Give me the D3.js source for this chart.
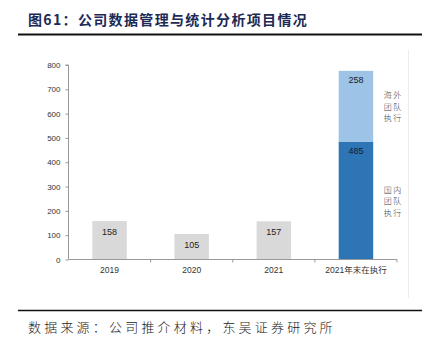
<!DOCTYPE html>
<html><head><meta charset="utf-8">
<script src="https://cdn.jsdelivr.net/npm/d3@7/dist/d3.min.js"></script>
<style>body{margin:0;background:#fff}</style>
</head><body><svg id="c" width="431" height="347"></svg>
<script>
const categories = ["2019", "2020", "2021", "2021年末在执行"];
const singleValues = [158, 105, 157, null];
const domesticValue = [null, null, null, 485];
const overseasValue = [null, null, null, 291];
const domesticLabel = ["", "", "", "485"];
const overseasLabel = ["", "", "", "258"];
const yTicks = [0, 100, 200, 300, 400, 500, 600, 700, 800];
const sideLabelsTop = ["海外", "团队", "执行"];
const sideLabelsBottom = ["国内", "团队", "执行"];

const svg = d3.select("#c");
const x = d3.scaleBand().domain(categories).range([68.5, 397]).paddingInner(0).paddingOuter(0);
const y = d3.scaleLinear().domain([0, 800]).range([259.5, 65]);
const bw = x.bandwidth() * 0.42;

// title
svg.append("text").attr("x", 28).attr("y", 25).attr("fill", "#1c2a55")
  .attr("font-family", "'Noto Sans CJK SC'").attr("font-weight", "bold").attr("font-size", 14)
  .attr("letter-spacing", 1.35).text("图61：公司数据管理与统计分析项目情况");
svg.append("line").attr("x1", 18).attr("x2", 422).attr("y1", 34.5).attr("y2", 34.5).attr("stroke", "#111").attr("stroke-width", 2);
svg.append("line").attr("x1", 18).attr("x2", 422).attr("y1", 310.5).attr("y2", 310.5).attr("stroke", "#111").attr("stroke-width", 1.5);
svg.append("line").attr("x1", 408.5).attr("x2", 408.5).attr("y1", 50).attr("y2", 298).attr("stroke", "#ececec");
svg.append("text").attr("x", 28).attr("y", 332).attr("fill", "#222")
  .attr("font-family", "'Noto Sans CJK SC'").attr("font-size", 13).attr("font-weight", 300)
  .attr("letter-spacing", 3.2).text("数据来源：公司推介材料，东吴证券研究所");

// bars
const g = svg.append("g");
categories.forEach((c, i) => {
  const cx = x(c) + x.bandwidth() / 2;
  if (singleValues[i] != null) {
    g.append("rect").attr("x", cx - bw / 2).attr("width", bw).attr("y", y(singleValues[i]))
      .attr("height", y(0) - y(singleValues[i])).attr("fill", "#d9d9d9");
    g.append("text").attr("x", cx).attr("y", y(singleValues[i]) + 14).attr("text-anchor", "middle")
      .attr("font-family", "Arial, 'Liberation Sans'").attr("font-size", 9).attr("fill", "#222").text(singleValues[i]);
  }
  if (domesticValue[i] != null) {
    const d = domesticValue[i], o = overseasValue[i];
    g.append("rect").attr("x", cx - bw / 2).attr("width", bw).attr("y", y(d))
      .attr("height", y(0) - y(d)).attr("fill", "#2e75b6");
    g.append("rect").attr("x", cx - bw / 2).attr("width", bw).attr("y", y(d + o))
      .attr("height", y(d) - y(d + o)).attr("fill", "#9dc3e6");
    g.append("text").attr("x", cx).attr("y", y(d) + 12).attr("text-anchor", "middle")
      .attr("font-family", "Arial, 'Liberation Sans'").attr("font-size", 9).attr("fill", "#1a1a1a").text(domesticLabel[i]);
    g.append("text").attr("x", cx).attr("y", y(d + o) + 12).attr("text-anchor", "middle")
      .attr("font-family", "Arial, 'Liberation Sans'").attr("font-size", 9).attr("fill", "#1a1a1a").text(overseasLabel[i]);
    const sx = cx + bw / 2 + 20;
    sideLabelsTop.forEach((t, k) => g.append("text").attr("x", sx).attr("y", y(d + o / 2) - 8 + k * 11.6)
      .attr("text-anchor", "middle").attr("font-family", "'Noto Sans CJK SC'").attr("font-size", 8)
      .attr("font-weight", 300).attr("letter-spacing", 1.5).attr("fill", "#444").text(t));
    sideLabelsBottom.forEach((t, k) => g.append("text").attr("x", sx).attr("y", y(d / 2) - 8 + k * 11.6)
      .attr("text-anchor", "middle").attr("font-family", "'Noto Sans CJK SC'").attr("font-size", 8)
      .attr("font-weight", 300).attr("letter-spacing", 1.5).attr("fill", "#444").text(t));
  }
});

// axes
const yAxis = svg.append("g").attr("transform", "translate(68.5,0)")
  .call(d3.axisLeft(y).tickValues(yTicks).tickSize(3).tickPadding(5));
yAxis.select(".domain").attr("stroke", "#999").attr("d", `M-3,${y(800)}H0V${y(0)}`);
yAxis.selectAll(".tick line").attr("stroke", "#999");
yAxis.selectAll("text").attr("font-family", "Arial, 'Liberation Sans'").attr("font-size", 8).attr("fill", "#333");

const xAxis = svg.append("g").attr("transform", `translate(0,${y(0)})`)
  .call(d3.axisBottom(x).tickSize(0).tickPadding(7));
xAxis.select(".domain").attr("stroke", "#999").attr("d", `M68.5,0H397`);
xAxis.selectAll("text").attr("font-family", "Arial, 'Liberation Sans', 'Noto Sans CJK SC'").attr("font-size", 8.5).attr("fill", "#333");
categories.forEach(c => {
  svg.append("line").attr("x1", x(c) + x.bandwidth()).attr("x2", x(c) + x.bandwidth())
    .attr("y1", y(0)).attr("y2", y(0) + 3).attr("stroke", "#999");
});
</script></body></html>
